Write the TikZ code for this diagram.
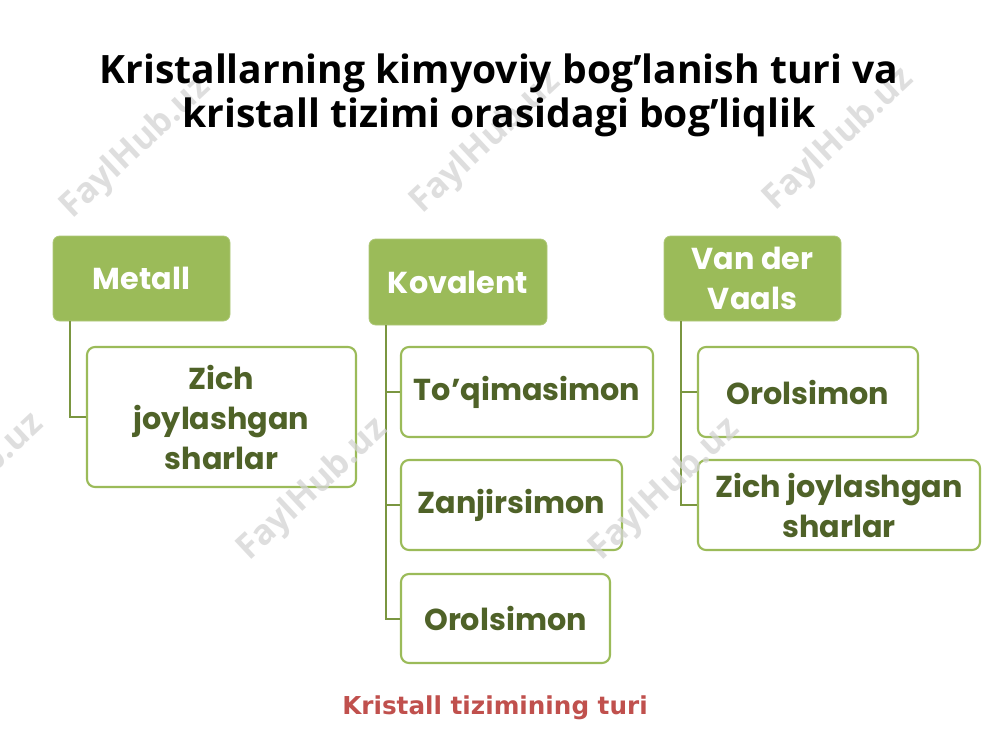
\documentclass[tikz,border=0pt]{standalone}
\usepackage{fontspec}
\setmainfont{Poppins}
\newfontfamily\titlefont{Open Sans}
\newfontfamily\capfont{DejaVu Sans}
\newfontfamily\wmfont{Open Sans}
\definecolor{hdrgreen}{HTML}{9BBB59}
\definecolor{txtgreen}{HTML}{4F6228}
\definecolor{linegreen}{HTML}{7A9640}
\definecolor{capred}{HTML}{C0504D}
\definecolor{wmgray}{HTML}{D4D4D4}
\tikzset{
  hdr/.style={rectangle, rounded corners=5pt, fill=hdrgreen, draw=hdrgreen!80!white, line width=0.6pt,
    text=white, font=\bfseries\fontsize{22.7}{30}\selectfont, align=center, inner sep=0pt},
  child/.style={rectangle, rounded corners=6pt, fill=white, draw=hdrgreen, line width=1.6pt,
    text=txtgreen, font=\bfseries\fontsize{22.7}{30}\selectfont, align=center, inner sep=0pt},
  conn/.style={draw=linegreen, line width=1.5pt},
  wm/.style={text=wmgray, opacity=0.75, font=\wmfont\bfseries\fontsize{26}{26}\selectfont, rotate=43},
}
\begin{document}
\begin{tikzpicture}[x=0.75pt,y=-0.75pt]
\useasboundingbox (0,0) rectangle (1000,750);
\fill[white] (0,0) rectangle (1000,750);
% headers
\node[hdr, minimum width=177*0.75pt, minimum height=85*0.75pt] (h1) at (141.5,278.5) {Metall};
\node[hdr, minimum width=178*0.75pt, minimum height=86*0.75pt] (h2) at (458,282) {Kovalent};
\node[hdr, minimum width=177*0.75pt, minimum height=85*0.75pt] (h3) at (752.5,278.5) {Van der\\Vaals};
% children
\node[child, minimum width=269*0.75pt, minimum height=140*0.75pt] (c1) at (221.5,417) {Zich\\joylashgan\\sharlar};
\node[child, minimum width=252*0.75pt, minimum height=90*0.75pt] (k1) at (527,392) {To’qimasimon};
\node[child, minimum width=221*0.75pt, minimum height=90*0.75pt] (k2) at (511.5,505) {Zanjirsimon};
\node[child, minimum width=209*0.75pt, minimum height=89*0.75pt] (k3) at (505.5,618.5) {Orolsimon};
\node[child, minimum width=220*0.75pt, minimum height=90*0.75pt] (v1) at (808,392) {Orolsimon};
\node[child, minimum width=282*0.75pt, minimum height=90*0.75pt] (v2) at (839,505) {Zich joylashgan\\sharlar};
% connectors
\draw[conn] ([xshift=17*0.75pt]h1.south west) |- (c1.west);
\draw[conn] ([xshift=17*0.75pt]h2.south west) |- (k3.west);
\draw[conn] ([xshift=17*0.75pt]h2.south west) |- (k1.west);
\draw[conn] ([xshift=17*0.75pt]h2.south west) |- (k2.west);
\draw[conn] ([xshift=17*0.75pt]h3.south west) |- (v2.west);
\draw[conn] ([xshift=17*0.75pt]h3.south west) |- (v1.west);
% watermarks
\node[wm] (w1) at (136,148) {FaylHub.uz};
\node[wm] (w2) at (486,143) {FaylHub.uz};
\node[wm] (w3) at (839,140) {FaylHub.uz};
\node[wm] (w4) at (-31,485) {FaylHub.uz};
\node[wm] (w5) at (313,490) {FaylHub.uz};
\node[wm] (w6) at (665,490) {FaylHub.uz};
% title
\node[font=\titlefont\bfseries\fontsize{29.3}{33}\selectfont, align=center] (title) at (499,95)
  {Kristallarning kimyoviy bog’lanish turi va\\kristall tizimi orasidagi bog’liqlik};
% caption
\node[font=\capfont\bfseries\fontsize{18.5}{20}\selectfont, text=capred] (cap) at (495,708) {Kristall tizimining turi};
\end{tikzpicture}
\end{document}
